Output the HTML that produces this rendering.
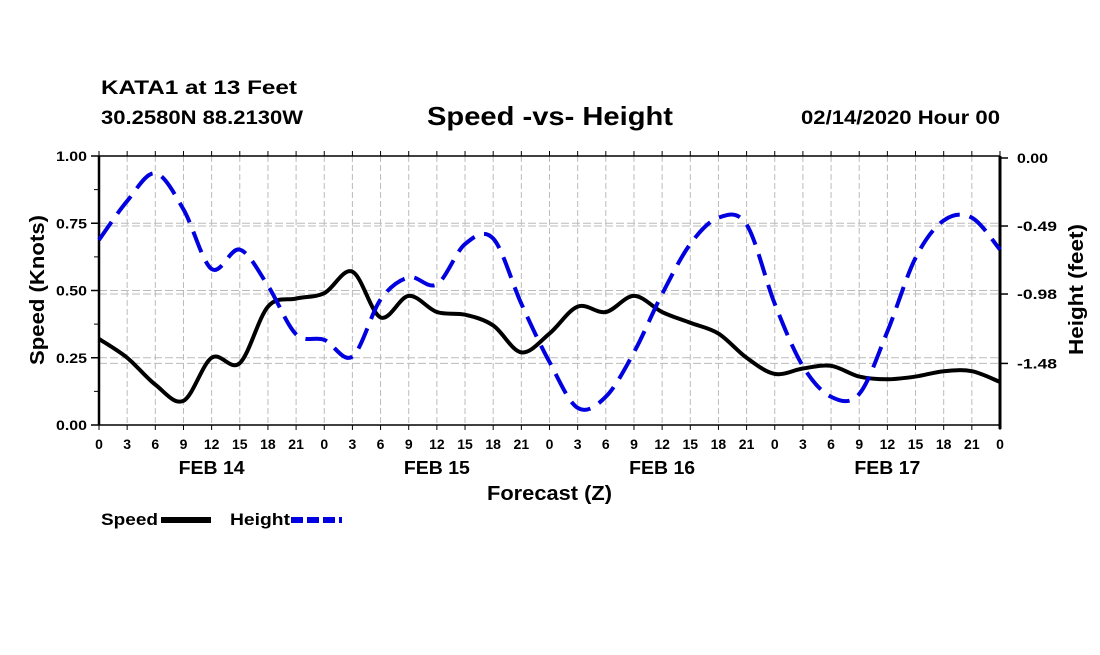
<!DOCTYPE html>
<html><head><meta charset="utf-8"><style>
body{margin:0;background:#fff;width:1100px;height:650px;overflow:hidden}
text{font-family:"Liberation Sans",sans-serif;font-weight:bold;fill:#000}
</style></head><body>
<svg id="chart" width="1100" height="650" viewBox="0 0 1100 650" xmlns="http://www.w3.org/2000/svg">
<text x="101" y="94" font-size="19" textLength="196" lengthAdjust="spacingAndGlyphs">KATA1 at 13 Feet</text>
<text x="101" y="124" font-size="19" textLength="202" lengthAdjust="spacingAndGlyphs">30.2580N 88.2130W</text>
<text x="427" y="125" font-size="26" textLength="246" lengthAdjust="spacingAndGlyphs">Speed -vs- Height</text>
<text x="801" y="124" font-size="19" textLength="199" lengthAdjust="spacingAndGlyphs">02/14/2020 Hour 00</text>
<g id="grid"></g><g id="axes"></g><g id="series"></g>
<text x="487" y="500" font-size="20" textLength="125" lengthAdjust="spacingAndGlyphs">Forecast (Z)</text>
<text transform="translate(44,365) rotate(-90)" font-size="20" textLength="150" lengthAdjust="spacingAndGlyphs">Speed (Knots)</text>
<text transform="translate(1083,355) rotate(-90)" font-size="20" textLength="131" lengthAdjust="spacingAndGlyphs">Height (feet)</text>
<g>
<text x="101" y="525" font-size="17" textLength="57" lengthAdjust="spacingAndGlyphs">Speed</text>
<line x1="161" y1="520" x2="211" y2="520" stroke="#000" stroke-width="6"/>
<text x="230" y="525" font-size="17" textLength="60" lengthAdjust="spacingAndGlyphs">Height</text>
<line x1="291" y1="520" x2="342" y2="520" stroke="#0000e0" stroke-width="6" stroke-dasharray="12,4"/>
</g>
</svg>
<script>
const hours=[0,3,6,9,12,15,18,21,24,27,30,33,36,39,42,45,48,51,54,57,60,63,66,69,72,75,78,81,84,87,90,93,96];
const speed=[0.32,0.25,0.15,0.09,0.25,0.23,0.44,0.47,0.49,0.57,0.40,0.48,0.42,0.41,0.37,0.27,0.34,0.44,0.42,0.48,0.42,0.38,0.34,0.25,0.19,0.21,0.22,0.18,0.17,0.18,0.20,0.20,0.16,0.19];
const height=[-0.59,-0.31,-0.11,-0.37,-0.80,-0.66,-0.92,-1.27,-1.31,-1.43,-1.02,-0.86,-0.91,-0.62,-0.58,-1.05,-1.47,-1.80,-1.72,-1.40,-0.98,-0.62,-0.43,-0.48,-1.05,-1.50,-1.72,-1.70,-1.25,-0.72,-0.45,-0.43,-0.66];
const speedTicks=[0,0.25,0.5,0.75,1.0];
const speedTickLabels=["0.00","0.25","0.50","0.75","1.00"];
const heightTicks=[0,-0.49,-0.98,-1.48];
const heightTickLabels=["0.00","-0.49","-0.98","-1.48"];
const dayLabels=["FEB 14","FEB 15","FEB 16","FEB 17"];
speed.length=hours.length;
const X0=99,X1=1000,Y0=425,Y1=156;
const x=h=>X0+(h/96)*(X1-X0);
const yS=v=>Y0-v*(Y0-Y1);
const yH=v=>158+(-v)*138.8;
const NS="http://www.w3.org/2000/svg";
function mk(p,t,a){const e=document.createElementNS(NS,t);for(const k in a)e.setAttribute(k,a[k]);p.appendChild(e);return e;}
const grid=document.getElementById('grid'),axes=document.getElementById('axes'),ser=document.getElementById('series');
for(let h=3;h<96;h+=3){const l=mk(grid,'line',{x1:x(h),y1:Y1,x2:x(h),y2:Y0,stroke:'#bbb','stroke-width':1,'stroke-dasharray':'6,3'});

}
speedTicks.forEach((v,i)=>{if(i>0&&i<4){const l=mk(grid,'line',{x1:X0,y1:yS(v),x2:X1,y2:yS(v),stroke:'#bbb','stroke-width':1,'stroke-dasharray':'8,3'});

}
const t=mk(axes,'line',{x1:X0-8,y1:yS(v),x2:X0,y2:yS(v),stroke:'#000','stroke-width':1.5});


const tx=mk(axes,'text',{x:X0-12,y:yS(v)+5,'font-size':14,'text-anchor':'end',textLength:31,lengthAdjust:'spacingAndGlyphs'});tx.textContent=speedTickLabels[i];

});
for(let v=0.125;v<1;v+=0.25){const t=mk(axes,'line',{x1:X0-5,y1:yS(v),x2:X0,y2:yS(v),stroke:'#000','stroke-width':1});

}
heightTicks.forEach((v,i)=>{if(i>0){const l=mk(grid,'line',{x1:X0,y1:yH(v),x2:X1,y2:yH(v),stroke:'#bbb','stroke-width':1,'stroke-dasharray':'8,3'});

}
const t=mk(axes,'line',{x1:X1,y1:yH(v),x2:X1+8,y2:yH(v),stroke:'#000','stroke-width':1.5});


const lab=heightTickLabels[i];
const tx=mk(axes,'text',{x:X1+17,y:yH(v)+5,'font-size':14,textLength:lab[0]=='-'?40:31,lengthAdjust:'spacingAndGlyphs'});tx.textContent=lab;

});
for(let h=0;h<=96;h+=3){[Y1,Y0].forEach(yy=>{const t=mk(axes,'line',{x1:x(h),y1:yy==Y1?Y1-5:Y0,x2:x(h),y2:yy==Y1?Y1:Y0+5,stroke:'#000','stroke-width':1});

});
const tx=mk(axes,'text',{x:x(h),y:449,'font-size':14,'text-anchor':'middle'});tx.textContent=String(h%24);

}
dayLabels.forEach((d,i)=>{const tx=mk(axes,'text',{x:x(12+24*i)-33,y:474,'font-size':18,textLength:66,lengthAdjust:'spacingAndGlyphs'});tx.textContent=d;

});
const fr=mk(axes,'path',{d:`M${X0},${Y1}H${X1}M${X0},${Y0}H${X1}`,stroke:'#000','stroke-width':1.5,fill:'none'});


const la=mk(axes,'line',{x1:X0,y1:Y1,x2:X0,y2:Y0,stroke:'#000','stroke-width':2.5});


const ra=mk(axes,'line',{x1:X1,y1:Y1,x2:X1,y2:Y0+4,stroke:'#000','stroke-width':3});


function smooth(pts){let d=`M${pts[0][0]},${pts[0][1]}`;for(let i=0;i<pts.length-1;i++){const p0=pts[Math.max(0,i-1)],p1=pts[i],p2=pts[i+1],p3=pts[Math.min(pts.length-1,i+2)];
d+=`C${p1[0]+(p2[0]-p0[0])/6},${p1[1]+(p2[1]-p0[1])/6} ${p2[0]-(p3[0]-p1[0])/6},${p2[1]-(p3[1]-p1[1])/6} ${p2[0]},${p2[1]}`;}return d;}
const sp=mk(ser,'path',{d:smooth(hours.map((h,i)=>[x(h),yS(speed[i])])),fill:'none',stroke:'#000','stroke-width':4,'stroke-linejoin':'round'});


const hp=mk(ser,'path',{d:smooth(hours.map((h,i)=>[x(h),yH(height[i])])),fill:'none',stroke:'#0000e0','stroke-width':4,'stroke-dasharray':'22,10'});


</script>
</body></html>
